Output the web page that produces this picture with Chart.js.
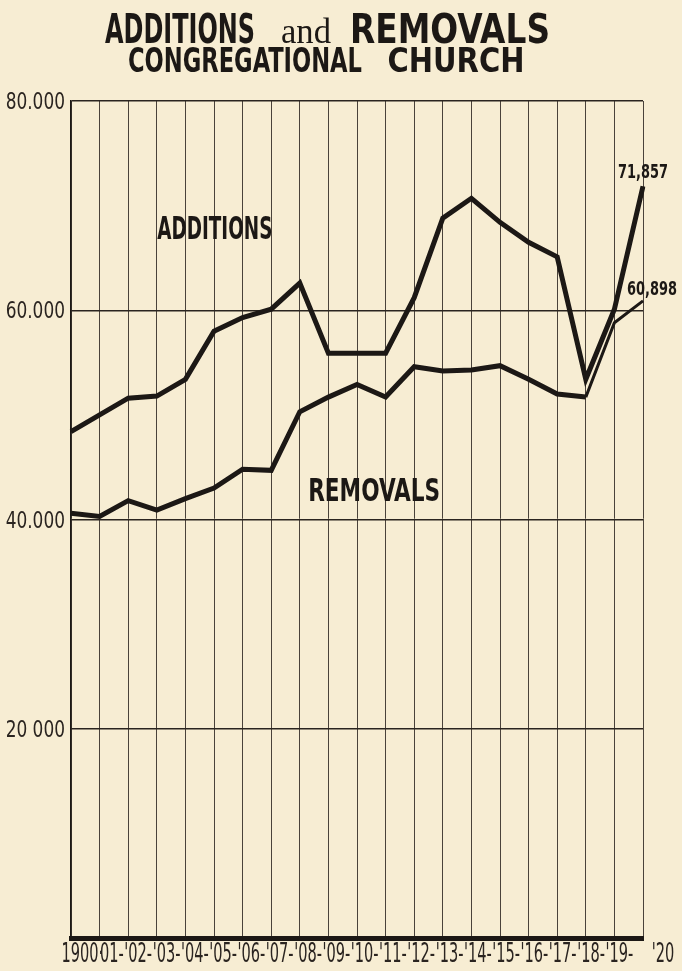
<!DOCTYPE html>
<html>
<head>
<meta charset="utf-8">
<script src="https://cdn.jsdelivr.net/npm/chart.js@4.4.1/dist/chart.umd.min.js"></script>
<style>
  html, body { margin: 0; padding: 0; background: #f7edd3; }
  #wrap { width: 682px; height: 971px; }
</style>
</head>
<body>
<div id="wrap"><canvas id="churchChart" width="682" height="971"></canvas></div>
<script>
// years on the x axis and the labels printed under them
const years = [1900, 1901, 1902, 1903, 1904, 1905, 1906, 1907, 1908, 1909, 1910,
  1911, 1912, 1913, 1914, 1915, 1916, 1917, 1918, 1919, 1920];
const yearLabels = ['1900·', '01-', "'02-", "'03-", "'04-", "'05-", "'06-", "'07-", "'08-", "'09-", "'10-",
  "'11-", "'12-", "'13-", "'14-", "'15-", "'16-", "'17-", "'18-", "'19-", "'20"];

// values (last points are printed on the chart)
const additions = [48400, 50000, 51600, 51800, 53400, 58000, 59300, 60100, 62600, 55900, 55900,
  55900, 61200, 68800, 70700, 68400, 66500, 65100, 53400, 60100, 71857];
const removals = [40600, 40300, 41800, 40900, 42000, 43000, 44800, 44700, 50300, 51700, 52900,
  51700, 54600, 54200, 54300, 54700, 53400, 52000, 51700, 58800, 60898];

const yTickValues = [0, 20000, 40000, 60000, 80000];
const yTickLabels = ['', '20 000', '40.000', '60.000', '80.000'];

const INK = '#1c1815';
const COND = '"DejaVu Sans Condensed", "DejaVu Sans", sans-serif';

// draw text squeezed horizontally (old condensed lettering)
// width: target width (centered), or sx: fixed squeeze with align
function squeezed(ctx, text, x, baseline, font, opts) {
  ctx.save();
  ctx.font = font;
  const w = ctx.measureText(text).width;
  const sx = opts.width ? opts.width / w : opts.sx;
  const align = opts.align || 'center';
  let x0 = x;
  if (align === 'center') x0 = x - w * sx / 2;
  if (align === 'right') x0 = x - w * sx;
  ctx.translate(x0, baseline);
  ctx.scale(sx, 1);
  ctx.textAlign = 'left';
  ctx.textBaseline = 'alphabetic';
  ctx.fillStyle = opts.color || INK;
  ctx.fillText(text, 0, 0);
  ctx.restore();
}

const lettering = {
  id: 'lettering',
  afterDraw(chart) {
    const ctx = chart.ctx;
    const x = chart.scales.x;
    const y = chart.scales.y;

    // title
    squeezed(ctx, 'ADDITIONS', 180, 43, 'bold 40px ' + COND, { width: 150 });
    squeezed(ctx, 'and', 306, 43, '36px "Liberation Serif", serif', { width: 50 });
    squeezed(ctx, 'REMOVALS', 450, 43, 'bold 40px ' + COND, { width: 200 });
    squeezed(ctx, 'CONGREGATIONAL', 245, 72, 'bold 34px ' + COND, { width: 234 });
    squeezed(ctx, 'CHURCH', 456, 72, 'bold 34px ' + COND, { width: 137 });

    // y tick labels
    yTickValues.forEach((v, i) => {
      if (!yTickLabels[i]) return;
      squeezed(ctx, yTickLabels[i], x.left - 6, y.getPixelForValue(v) + 8, '23px ' + COND,
        { sx: 0.82, align: 'right', color: '#2a2420' });
    });

    // x tick labels: the digits sit just right of the grid line, marks around them
    const xFont = '27px ' + COND;
    const sxX = 0.6;
    ctx.save();
    ctx.font = xFont;
    const last = years.length - 1;
    yearLabels.forEach((lab, i) => {
      const m = lab.match(/^(\D*)(\d+)(\D*)$/);
      const wPre = ctx.measureText(m[1]).width * sxX;
      const wNum = ctx.measureText(m[2]).width * sxX;
      const off = i === 0 ? 9 : (i === last ? 22 : 10 - 0.3 * i);
      const cx = x.getPixelForValue(i) + off;
      squeezed(ctx, lab, cx - wPre - wNum / 2, 962, xFont, { sx: sxX, align: 'left', color: '#2a2420' });
    });
    ctx.restore();

    // series names inside the plot
    squeezed(ctx, 'ADDITIONS', x.getPixelForValue(5.03), y.getPixelForValue(66800), 'bold 32px ' + COND, { width: 115 });
    squeezed(ctx, 'REMOVALS', x.getPixelForValue(10.6), y.getPixelForValue(41800), 'bold 32px ' + COND, { width: 132 });

    // end values
    const ax = x.getPixelForValue(last);
    const aText = additions[last].toLocaleString('en-US');
    const rText = removals[last].toLocaleString('en-US');
    squeezed(ctx, aText, ax, y.getPixelForValue(additions[last]) - 8, 'bold 20px ' + COND, { width: 50 });
    squeezed(ctx, rText, ax + 9, y.getPixelForValue(removals[last]) - 6, 'bold 20px ' + COND, { width: 50 });
  }
};

const ctx = document.getElementById('churchChart').getContext('2d');
new Chart(ctx, {
  type: 'line',
  data: {
    labels: years,
    datasets: [{
      label: 'Additions',
      data: additions,
      borderColor: INK,
      borderWidth: 5,
      pointRadius: 0,
      fill: false,
      tension: 0
    }, {
      label: 'Removals',
      data: removals,
      borderColor: INK,
      borderWidth: 5,
      pointRadius: 0,
      fill: false,
      tension: 0,
      segment: {
        borderWidth: c => c.p0DataIndex >= 18 ? 3 : undefined
      }
    }]
  },
  options: {
    responsive: false,
    animation: false,
    layout: { padding: { top: 101, right: 39, left: 0, bottom: 0 } },
    plugins: {
      legend: { display: false },
      tooltip: { enabled: false }
    },
    scales: {
      x: {
        type: 'category',
        offset: false,
        grid: { color: '#4a423a', lineWidth: 1, drawTicks: false },
        border: { color: INK, width: 5 },
        ticks: { display: false },
        afterFit(scale) { scale.height = 33; }
      },
      y: {
        min: 0,
        max: 80000,
        grid: { color: '#2a241f', lineWidth: 1.4, drawTicks: false },
        border: { color: INK, width: 1.5 },
        ticks: { display: false, stepSize: 20000 },
        afterFit(scale) { scale.width = 71; }
      }
    }
  },
  plugins: [lettering]
});
</script>
</body>
</html>
